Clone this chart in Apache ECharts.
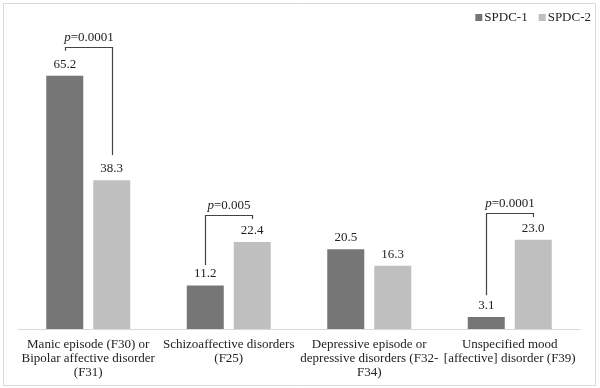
<!DOCTYPE html>
<html>
<head>
<meta charset="utf-8">
<script src="https://cdn.jsdelivr.net/npm/echarts@6/dist/echarts.min.js"></script>
<style>
html,body{margin:0;padding:0;background:#fff;}
#c{width:600px;height:388px;}
</style>
</head>
<body>
<div id="c"></div>
<script>
var categories = [
  'Manic episode (F30) or\nBipolar affective disorder\n(F31)',
  'Schizoaffective disorders\n(F25)',
  'Depressive episode or\ndepressive disorders (F32-\nF34)',
  'Unspecified mood\n[affective] disorder (F39)'
];
var seriesNames = ['SPDC-1', 'SPDC-2'];
var spdc1 = [65.2, 11.2, 20.5, 3.1];
var spdc2 = [38.3, 22.4, 16.3, 23.0];
// significance brackets: category index, p text, bracket top value, lower end values for left/right legs
var brackets = [
  {cat: 0, p: '0.0001', top: 72.6, leftEnd: 71.6, rightEnd: 44.8},
  {cat: 1, p: '0.005', top: 29.3, leftEnd: 16.5, rightEnd: 28.3},
  {cat: 3, p: '0.0001', top: 29.8, leftEnd: 8.7, rightEnd: 28.8}
];

var FONT = '"Liberation Serif", "Times New Roman", serif';
var chart = echarts.init(document.getElementById('c'), null, {renderer: 'canvas'});
var option = {
  animation: false,
  backgroundColor: '#fff',
  textStyle: {fontFamily: FONT},
  legend: {
    right: 4, top: 6,
    itemWidth: 7, itemHeight: 7, itemGap: 11,
    icon: 'rect',
    textStyle: {fontFamily: FONT, fontSize: 13, color: '#222', padding: [0, 0, 0, -3]},
    data: seriesNames
  },
  grid: {left: 18, right: 20, top: 57, bottom: 59, containLabel: false},
  xAxis: {
    type: 'category',
    data: categories,
    axisLine: {lineStyle: {color: '#d9d9d9', width: 1}},
    axisTick: {show: false},
    axisLabel: {fontFamily: FONT, fontSize: 13, color: '#222', lineHeight: 14, margin: 9, interval: 0}
  },
  yAxis: {
    type: 'value', min: 0, max: 70,
    show: false,
    splitLine: {show: false}
  },
  series: [
    {
      name: seriesNames[0], type: 'bar', data: spdc1,
      barWidth: 37, barGap: '27%',
      itemStyle: {color: '#767676'},
      label: {show: true, position: 'top', distance: 5, fontFamily: FONT, fontSize: 13, color: '#222',
        formatter: function (p) { return p.value.toFixed(1); }}
    },
    {
      name: seriesNames[1], type: 'bar', data: spdc2,
      barWidth: 37, barGap: '27%',
      itemStyle: {color: '#bfbfbf'},
      label: {show: true, position: 'top', distance: 5, fontFamily: FONT, fontSize: 13, color: '#222',
        formatter: function (p) { return p.value.toFixed(1); }}
    }
  ]
};
chart.setOption(option);

function yPix(v) { return chart.convertToPixel({yAxisIndex: 0}, v); }
var model = chart.getModel();
var d0 = model.getSeriesByIndex(0).getData();
var d1 = model.getSeriesByIndex(1).getData();
var graphics = [{
  type: 'rect', silent: true,
  shape: {x: 3.5, y: 3.5, width: 592, height: 382},
  style: {fill: 'none', stroke: '#d9d9d9', lineWidth: 1}
}];
brackets.forEach(function (b) {
  var l0 = d0.getItemLayout(b.cat), l1 = d1.getItemLayout(b.cat);
  var xl = Math.round(l0.x + l0.width / 2) + 0.5;
  var xr = Math.round(l1.x + l1.width / 2) + 0.5;
  var yt = Math.round(yPix(b.top)) + 0.5;
  graphics.push({
    type: 'polyline', silent: true,
    shape: {points: [[xl, yPix(b.leftEnd)], [xl, yt], [xr, yt], [xr, yPix(b.rightEnd)]]},
    style: {fill: 'none', stroke: '#444', lineWidth: 1.2}
  });
  graphics.push({
    type: 'text', silent: true,
    x: (xl + xr) / 2, y: yt - 10,
    style: {
      text: '{i|p}=' + b.p,
      rich: {i: {fontStyle: 'italic', fontFamily: FONT, fontSize: 13, fill: '#222'}},
      font: '13px ' + FONT, fill: '#222',
      textAlign: 'center', textVerticalAlign: 'middle'
    }
  });
});
chart.setOption({graphic: graphics});
</script>
</body>
</html>
